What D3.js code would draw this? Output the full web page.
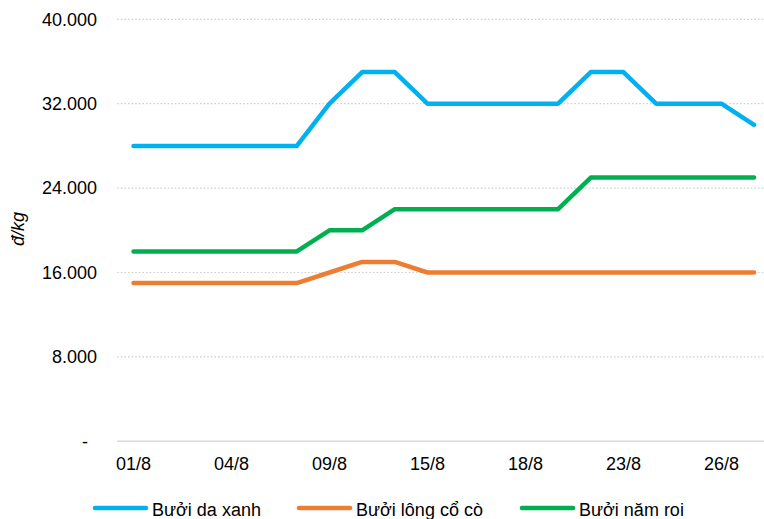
<!DOCTYPE html>
<html><head><meta charset="utf-8">
<script src="https://cdn.jsdelivr.net/npm/d3@7"></script>
<style>body{margin:0;background:#fff;}svg{display:block;font-family:"Liberation Sans",Arial,sans-serif;}</style>
</head><body>
<svg id="c" width="764" height="519"></svg>
<script>
const categories = ["01/8","02/8","03/8","04/8","05/8","08/8","09/8","10/8","12/8","15/8","16/8","17/8","18/8","19/8","22/8","23/8","24/8","25/8","26/8","29/8"];
const shownLabels = ["01/8","04/8","09/8","15/8","18/8","23/8","26/8"];
const buoiDaXanh = [28000,28000,28000,28000,28000,28000,32000,35000,35000,32000,32000,32000,32000,32000,35000,35000,32000,32000,32000,30000];
const buoiLongCoCo = [15000,15000,15000,15000,15000,15000,16000,17000,17000,16000,16000,16000,16000,16000,16000,16000,16000,16000,16000,16000];
const buoiNamRoi = [18000,18000,18000,18000,18000,18000,20000,20000,22000,22000,22000,22000,22000,22000,25000,25000,25000,25000,25000,25000];
const seriesNames = ["Bưởi da xanh","Bưởi lông cổ cò","Bưởi năm roi"];
const yTicks = [0,8000,16000,24000,32000,40000];
const colors = ["#00B0F0","#ED7D31","#00B050"];

const svg = d3.select("#c");
const x = d3.scaleBand().domain(categories).range([117.2, 770.4]);
const y = d3.scaleLinear().domain([0,40000]).range([441.3, 19.3]);
const cx = d => x(d) + x.bandwidth()/2;

// gridlines
svg.append("g").selectAll("line").data(yTicks.filter(t=>t>0)).join("line")
  .attr("x1",117.2).attr("x2",770).attr("y1",d=>y(d)).attr("y2",d=>y(d))
  .attr("stroke","#D0D0D0").attr("stroke-width",1.2).attr("stroke-dasharray","1.6,2");

// y axis labels
const fmt = d => d===0 ? "-" : d3.format(",")(d).replace(/,/g,".");
svg.append("g").selectAll("text").data(yTicks).join("text")
  .attr("x",d=>d===0?88:97).attr("y",d=>y(d)).attr("dy","0.35em")
  .attr("text-anchor","end").attr("font-size",18).attr("fill","#000").text(fmt);

// x axis line
svg.append("line").attr("x1",117.2).attr("x2",770).attr("y1",y(0)).attr("y2",y(0))
  .attr("stroke","#D9D9D9").attr("stroke-width",1.5);

// x labels
svg.append("g").selectAll("text").data(shownLabels).join("text")
  .attr("x",d=>cx(d)).attr("y",470).attr("text-anchor","middle")
  .attr("font-size",18).attr("fill","#000").text(d=>d);

// y title
svg.append("text").attr("transform","translate(24,229) rotate(-90)")
  .attr("text-anchor","middle").attr("font-size",18).attr("font-style","italic").text("đ/kg");

// lines
const allSeries = [buoiDaXanh, buoiLongCoCo, buoiNamRoi];
const line = d3.line().x((d,i)=>cx(categories[i])).y(d=>y(d));
svg.append("g").selectAll("path").data(allSeries).join("path")
  .attr("d",line).attr("fill","none").attr("stroke",(d,i)=>colors[i])
  .attr("stroke-width",4.5).attr("stroke-linecap","round").attr("stroke-linejoin","round");

// legend
const legX = [93, 297, 520];
const lg = svg.append("g").selectAll("g").data(seriesNames).join("g")
  .attr("transform",(d,i)=>`translate(${legX[i]},508)`);
lg.append("line").attr("x1",2).attr("x2",53).attr("stroke",(d,i)=>colors[i])
  .attr("stroke-width",4.5).attr("stroke-linecap","round");
lg.append("text").attr("x",59).attr("y",8).attr("font-size",18).attr("fill","#000").text(d=>d);
</script>
</body></html>
